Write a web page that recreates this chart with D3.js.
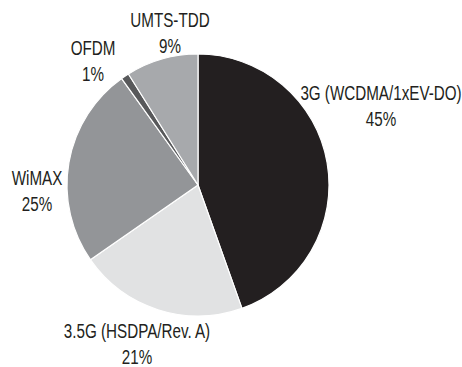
<!DOCTYPE html>
<html>
<head>
<meta charset="utf-8">
<script src="https://cdn.jsdelivr.net/npm/d3@7"></script>
<style>
  html, body { margin: 0; padding: 0; background: #ffffff; }
  svg { display: block; }
  text { font-family: "Liberation Sans", Arial, sans-serif; fill: #231f20; }
</style>
</head>
<body>
<svg id="chart" width="462" height="367"></svg>
<script>
// Market share by wireless technology (percent)
const categories = ["3G (WCDMA/1xEV-DO)", "3.5G (HSDPA/Rev. A)", "WiMAX", "OFDM", "UMTS-TDD"];
const shares = [45, 21, 25, 1, 9];
const sliceColors = ["#231f20", "#e1e2e3", "#939598", "#58595b", "#a7a9ac"];

// Label anchor offsets from the pie centre (px): [dx, dy of first baseline]
const labelOffsets = [[183, -85], [-61, 153], [-161, 0], [-105, -130], [-28, -158]];

const width = 462, height = 367;
const cx = 198, cy = 185, radius = 131;
const fontSize = 19.5, lineGap = 26, condense = 0.78;

const data = categories.map((c, i) => ({ name: c, value: shares[i], color: sliceColors[i], off: labelOffsets[i] }));

const svg = d3.select("#chart");
const g = svg.append("g").attr("transform", `translate(${cx},${cy})`);

const pie = d3.pie().sort(null).value(d => d.value).startAngle(0).endAngle(2 * Math.PI);
const arc = d3.arc().innerRadius(0).outerRadius(radius);

g.selectAll("path.slice")
  .data(pie(data))
  .join("path")
  .attr("class", "slice")
  .attr("d", arc)
  .attr("fill", d => d.data.color)
  .attr("stroke", "#ffffff")
  .attr("stroke-width", 1.2)
  .attr("stroke-linejoin", "round");

// Two-line labels: name, then percentage; narrowed to a condensed face
const labels = g.selectAll("text.label")
  .data(pie(data))
  .join("text")
  .attr("class", "label")
  .attr("text-anchor", "middle")
  .attr("font-size", fontSize)
  .attr("transform", d => `translate(${d.data.off[0]},${d.data.off[1]}) scale(${condense},1)`);

labels.append("tspan")
  .attr("x", 0).attr("y", 0)
  .text(d => d.data.name);
labels.append("tspan")
  .attr("x", 0).attr("y", lineGap)
  .text(d => d.data.value + "%");
</script>
</body>
</html>
